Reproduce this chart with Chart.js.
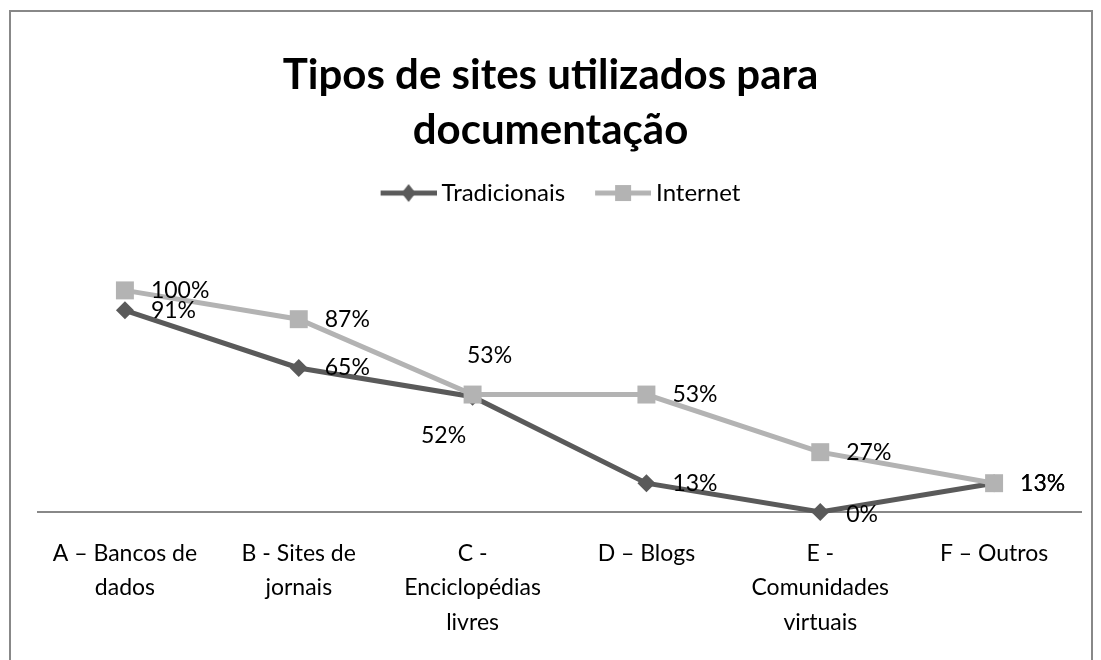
<!DOCTYPE html>
<html>
<head>
<meta charset="utf-8">
<script src="https://cdn.jsdelivr.net/npm/chart.js@4.4.1/dist/chart.umd.min.js"></script>
<style>
  html, body { margin: 0; padding: 0; background: #fff; }
  #wrap { width: 1101px; height: 660px; position: relative; }
</style>
</head>
<body>
<div id="wrap"><canvas id="sitesChart"></canvas></div>
<script>
// categories (wrapped the way the original axis shows them)
const categories = [
  ["A – Bancos de", "dados"],
  ["B - Sites de", "jornais"],
  ["C -", "Enciclopédias", "livres"],
  ["D – Blogs"],
  ["E -", "Comunidades", "virtuais"],
  ["F – Outros"],
];
const tradicionais = [91, 65, 52, 13, 0, 13];
const internet = [100, 87, 53, 53, 27, 13];
const seriesNames = ["Tradicionais", "Internet"];
const titleLines = ["Tipos de sites utilizados para", "documentação"];

const darkGray = "#5a5a5a";
const lightGray = "#b3b3b3";
const fontFamily = "Lato, 'Open Sans', sans-serif";

// where each value label sits relative to its point: [dx, dy, align]
const labelPos = [
  [[26, 0, "left"], [26, 0, "left"], [-29, 39, "center"], [26, 0, "left"], [26, 3, "left"], [26, 0, "left"]],
  [[26, 0, "left"], [26, 0, "left"], [17, -39, "center"], [26, 0, "left"], [26, 0, "left"], [26, 0, "left"]],
];

// line + marker picture for the legend (line sits at the right of the image)
function legendIcon(color, shape) {
  const c = document.createElement("canvas");
  c.width = 83;
  c.height = 20;
  const g = c.getContext("2d");
  g.strokeStyle = color;
  g.lineWidth = 5;
  g.beginPath();
  g.moveTo(27, 10);
  g.lineTo(83, 10);
  g.stroke();
  g.fillStyle = color;
  g.beginPath();
  if (shape === "diamond") {
    g.moveTo(55, 1);
    g.lineTo(62, 10);
    g.lineTo(55, 19);
    g.lineTo(48, 10);
    g.closePath();
  } else {
    g.rect(47, 2, 16, 16);
  }
  g.fill();
  return c;
}
const icons = [legendIcon(darkGray, "diamond"), legendIcon(lightGray, "square")];

const framePlugin = {
  id: "frame",
  beforeDraw(chart) {
    const ctx = chart.ctx;
    ctx.save();
    ctx.fillStyle = "#fff";
    ctx.fillRect(0, 0, chart.width, chart.height);
    ctx.strokeStyle = "#888";
    ctx.lineWidth = 2;
    ctx.strokeRect(10, 11, 1082, 700);
    ctx.restore();
  },
};

const valueLabels = {
  id: "valueLabels",
  afterDatasetsDraw(chart) {
    const ctx = chart.ctx;
    ctx.save();
    ctx.font = "23px " + fontFamily;
    ctx.fillStyle = "#000";
    ctx.textBaseline = "middle";
    chart.data.datasets.forEach((ds, i) => {
      const meta = chart.getDatasetMeta(i);
      meta.data.forEach((pt, j) => {
        const p = labelPos[i][j];
        ctx.textAlign = p[2];
        ctx.fillText(ds.data[j] + "%", pt.x + p[0], pt.y + p[1]);
      });
    });
    ctx.restore();
  },
};

const ctx = document.getElementById("sitesChart");
const myChart = new Chart(ctx, {
  type: "line",
  data: {
    labels: categories,
    datasets: [
      {
        label: seriesNames[0],
        data: tradicionais,
        borderColor: darkGray,
        backgroundColor: darkGray,
        borderWidth: 5,
        pointStyle: "rectRot",
        pointRadius: 9,
        pointHoverRadius: 9,
        pointBorderWidth: 0,
        fill: false,
        tension: 0,
        clip: false,
        order: 1,
      },
      {
        label: seriesNames[1],
        data: internet,
        borderColor: lightGray,
        backgroundColor: lightGray,
        borderWidth: 5,
        pointStyle: "rect",
        pointRadius: 12.7,
        pointHoverRadius: 12.7,
        pointBorderWidth: 0,
        fill: false,
        tension: 0,
        clip: false,
        order: 0,
      },
    ],
  },
  options: {
    responsive: true,
    maintainAspectRatio: false,
    animation: false,
    layout: {
      padding: { top: 10, left: 20, right: 20, bottom: 4.5 },
    },
    scales: {
      x: {
        offset: true,
        grid: { display: false },
        border: { display: true, color: "#888", width: 2 },
        ticks: {
          color: "#000",
          font: { family: fontFamily, size: 23, lineHeight: 1.5 },
          padding: 16,
          maxRotation: 0,
          autoSkip: false,
        },
      },
      y: {
        // invisible axis, only keeps a small gap on the left
        min: 0,
        max: 134,
        grid: { display: false },
        border: { display: false },
        ticks: { display: false },
        afterFit(scale) {
          scale.width = 18;
        },
      },
    },
    plugins: {
      title: {
        display: true,
        text: titleLines,
        color: "#000",
        font: { family: fontFamily, size: 42, weight: "bold", lineHeight: 1.31 },
        padding: { top: 38, bottom: 13 },
      },
      legend: {
        position: "top",
        labels: {
          color: "#000",
          font: { family: fontFamily, size: 24 },
          usePointStyle: true,
          pointStyleWidth: 69,
          padding: 10,
          sort: (a, b) => a.datasetIndex - b.datasetIndex,
          generateLabels(chart) {
            return chart.data.datasets.map((ds, i) => ({
              text: ds.label,
              datasetIndex: i,
              pointStyle: icons[i],
              fillStyle: ds.backgroundColor,
              strokeStyle: ds.borderColor,
              lineWidth: 0,
              fontColor: "#000",
              hidden: false,
            }));
          },
        },
      },
      tooltip: { enabled: false },
    },
  },
  plugins: [framePlugin, valueLabels],
});
</script>
</body>
</html>
